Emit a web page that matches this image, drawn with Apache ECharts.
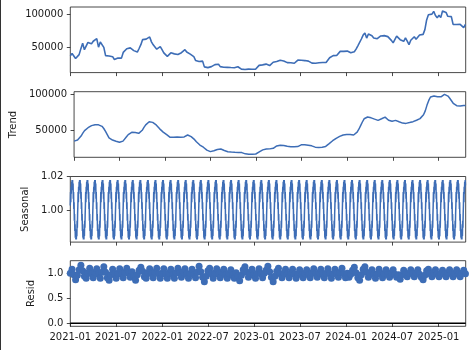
<!DOCTYPE html>
<html>
<head>
<meta charset="utf-8">
<script src="https://cdn.jsdelivr.net/npm/echarts@6/dist/echarts.min.js"></script>
<style>
  html, body { margin: 0; padding: 0; background: #ffffff; }
  #chart { width: 474px; height: 350px; }
</style>
</head>
<body>
<div id="chart"></div>
<script>
// Multiplicative seasonal decomposition of a daily price series (period = 30 days).
const DAY = 86400000;
const startDate = Date.UTC(2021, 0, 1);
const endDate = Date.UTC(2025, 3, 19);
const stepDays = 7; // observed / trend / resid are given once a week

// Observed price, weekly from 2021-01-01
const observed = [
  // 2021
  37000, 40600, 36800, 33000, 34300, 38900, 47900, 55900, 46300, 48900,
  57300, 58300, 55100, 59000, 58100, 63000, 50100, 57800, 57400, 49700,
  37300, 35700, 36900, 37300, 35800, 31600, 33900, 33800, 31800, 33600,
  42200, 42800, 47800, 49300, 49000, 50000, 44900, 47300, 42800, 48100,
  53900, 61500, 60900, 62200, 61000, 65500, 58100, 53600, 53600, 47100,
  46700, 50800, 46300,
  // 2022
  41600, 43100, 36300, 37700, 41600, 42400, 40000, 39200, 39100, 38800,
  41800, 44500, 46300, 42800, 40600, 39700, 38600, 36000, 30100, 29200,
  28600, 29700, 29100, 20400, 21200, 19300, 21600, 20800, 22600, 23800,
  23200, 24400, 20800, 20300, 19800, 21400, 19700, 19300, 19400, 19500,
  19200, 19200, 20600, 21300, 17000, 16700, 16500, 17000, 17100, 16800,
  16800, 16600,
  // 2023
  16900, 19900, 22700, 23100, 23400, 21800, 24600, 23200, 22400, 20200,
  27400, 27500, 28500, 27900, 30500, 27800, 29300, 29500, 26800, 26900,
  26700, 27200, 25900, 26300, 30700, 30500, 30300, 30300, 29900, 29300,
  29100, 29400, 26100, 26100, 25900, 25900, 26600, 26600, 27000, 27900,
  26900, 29700, 34100, 34700, 37300, 36600, 37700, 38700, 43800, 41900,
  43700, 42100,
  // 2024
  44200, 42900, 41600, 41800, 43200, 47100, 52100, 50700, 62400, 68300,
  71500, 63800, 69900, 67800, 67200, 64000, 63800, 62900, 60800, 67000,
  68500, 67500, 69300, 66000, 64100, 60300, 56700, 57900, 66700, 67900,
  61400, 60900, 58900, 64100, 59100, 53900, 60500, 63200, 65800, 62100,
  62400, 68400, 66600, 69400, 76500, 91100, 98900, 97500, 99900, 104000,
  97800, 94200,
  // 2025
  98100, 94600, 104500, 104800, 102400, 96600, 97500, 96100, 84400, 86700,
  84300, 84200, 84400, 83800, 79500, 84500
];

// Trend component, weekly
const trend = [
  // 2021
  35000, 35500, 36500, 38000, 42000, 46000, 49500, 52000, 53600, 55000,
  56500, 57300, 57800, 57900, 57600, 57000, 55500, 52500, 48500, 44000,
  39500, 37500, 36500, 35500, 34800, 34000, 33300, 33500, 35000, 37500,
  41000, 44000, 46200, 47200, 47000, 46800, 46300, 45800, 47000, 50000,
  54000, 57500, 60000, 61800, 62000, 61000, 59700, 57500, 55000, 52000,
  49500, 47500, 46000,
  // 2022
  44000, 41500, 40300, 40000, 40200, 40500, 40600, 40700, 40200, 39800,
  40800, 42500, 43500, 42800, 41200, 39800, 37000, 34000, 31500, 29500,
  27800, 26500, 24500, 22500, 20800, 20400, 20800, 21500, 22500, 23300,
  23900, 24000, 23200, 22000, 20800, 20300, 20000, 19800, 19600, 19400,
  19300, 19200, 19100, 19000, 18200, 17300, 16800, 16700, 16800, 16900,
  17000, 17100,
  // 2023
  18000, 20000, 21800, 22800, 23500, 23900, 24100, 24200, 24100, 25000,
  26500, 28200, 28900, 29200, 29300, 29000, 28500, 27800, 27300, 27000,
  27000, 27200, 27000, 27400, 28600, 29800, 30100, 30000, 29700, 29300,
  29000, 28400, 27600, 26600, 26300, 26200, 26300, 26600, 27200, 27600,
  28800, 31500, 33800, 35500, 37000, 38900, 40300, 41500, 42800, 43500,
  43900, 44200,
  // 2024
  44400, 44300, 43800, 43500, 44800, 47500, 51500, 56500, 61500, 66000,
  68000, 68500, 68000, 67300, 66600, 65500, 64500, 63800, 64500, 66000,
  68200, 68300, 66500, 64000, 62800, 62500, 63300, 63800, 63000, 61800,
  60600, 60000, 59600, 59600, 60000, 60700, 61300, 62000, 63000, 64000,
  65000, 66200, 68000, 71500, 77000, 85000, 91500, 96200, 97500, 97600,
  97300, 96500,
  // 2025
  95800, 96500, 98800, 100000, 99500, 97500, 94500, 91000, 87500, 85500,
  84200, 83700, 83600, 84000, 84300, 84300
];

// Residual component, weekly
const resid = [
  // 2021
  1.00, 1.08, 0.97, 0.87, 0.96, 1.07, 1.16, 1.05, 0.94, 0.90, 1.01, 1.10,
  0.99, 0.91, 1.02, 1.09, 0.98, 0.90, 1.02, 1.13, 1.02, 0.91, 0.86, 0.97,
  1.08, 0.99, 0.90, 1.00, 1.09, 0.98, 0.91, 1.02, 1.10, 1.00, 0.92, 1.03,
  0.95, 0.86, 0.97, 1.06, 1.12, 1.04, 0.93, 0.90, 1.01, 1.09, 0.99, 0.91,
  1.02, 1.10, 0.99, 0.90, 1.00,
  // 2022
  1.09, 0.98, 0.90, 1.01, 1.08, 0.97, 0.90, 1.01, 1.10, 1.00, 0.92, 1.03,
  1.09, 0.98, 0.90, 1.00, 1.08, 0.97, 0.91, 1.02, 1.14, 1.03, 0.92, 0.83,
  0.94, 1.05, 1.10, 0.99, 0.90, 1.01, 1.09, 0.98, 0.91, 1.02, 1.08, 0.97,
  0.90, 1.00, 1.07, 0.96, 0.90, 1.01, 0.95, 0.85, 0.96, 1.07, 1.13, 1.02,
  0.92, 1.01, 1.08, 0.97,
  // 2023
  0.90, 1.00, 1.09, 0.99, 0.91, 1.00, 1.06, 1.14, 1.03, 0.92, 0.83, 0.94,
  1.04, 1.10, 0.99, 0.91, 1.00, 1.08, 0.98, 0.91, 1.01, 1.08, 0.98, 0.90,
  0.99, 1.07, 0.97, 0.91, 1.00, 1.07, 0.97, 0.91, 1.01, 1.09, 0.99, 0.92,
  1.01, 1.08, 0.98, 0.91, 1.00, 1.09, 0.99, 0.90, 0.99, 1.08, 1.00, 0.92,
  1.02, 1.10, 0.99, 0.91,
  // 2024
  1.00, 0.92, 0.98, 1.06, 1.12, 1.01, 0.91, 0.86, 0.97, 1.08, 1.13, 1.02,
  0.92, 0.99, 1.07, 0.98, 0.90, 0.99, 1.08, 0.99, 0.91, 1.00, 1.07, 0.98,
  0.92, 1.01, 1.07, 0.98, 0.92, 0.97, 0.88, 0.97, 1.06, 0.99, 0.93, 1.00,
  1.07, 0.99, 0.93, 1.01, 1.07, 0.98, 0.92, 0.87, 0.96, 1.05, 1.08, 0.99,
  0.93, 1.01, 1.07, 0.98,
  // 2025
  0.93, 1.00, 1.06, 0.98, 0.93, 1.01, 1.07, 0.99, 0.93, 1.00, 1.07, 0.98,
  0.93, 1.00, 1.06, 0.99
];

// One 30-day seasonal cycle (day 0 = 2021-01-01); the component repeats it
const seasonalCycle = [
  1.003, 1.011, 1.005, 1.014, 1.010, 1.017, 1.013, 1.018, 1.015, 1.018,
  1.012, 1.016, 1.007, 1.011, 1.001, 1.005, 0.994, 0.998, 0.988, 0.992,
  0.984, 0.987, 0.983, 0.986, 0.983, 0.989, 0.985, 0.994, 0.990, 0.998
];

const xTickLabels = ['2021-01', '2021-07', '2022-01', '2022-07', '2023-01',
                     '2023-07', '2024-01', '2024-07', '2025-01'];
const observedTicks = [50000, 100000];
const trendTicks = [50000, 100000];
const seasonalTicks = [1.00, 1.02];
const residTicks = [0.0, 0.5, 1.0];

// ---- build series data ----
const weekly = arr => arr.map((v, i) => [startDate + i * stepDays * DAY, v]);
const nDays = Math.round((endDate - startDate) / DAY);
const seasonalData = [];
for (let d = 0; d < nDays; d++) {
  seasonalData.push([startDate + d * DAY, seasonalCycle[d % seasonalCycle.length]]);
}
const xTickValues = xTickLabels.map(s => {
  const [y, m] = s.split('-').map(Number);
  return Date.UTC(y, m - 1, 1);
});
const pad2 = n => (n < 10 ? '0' : '') + n;
const fmtMonth = v => {
  const d = new Date(v);
  return d.getUTCFullYear() + '-' + pad2(d.getUTCMonth() + 1);
};

// ---- layout ----
const FONT = 'DejaVu Sans';
const INK = '#1a1a1a';
const BLUE = '#3d6db6';
const panelLeft = 70.3, panelWidth = 395.4, panelHeight = 65.6;
const panelTops = [7, 91.7, 176.5, 260.7];

const grids = panelTops.map(t => ({
  left: panelLeft, top: t, width: panelWidth, height: panelHeight,
  show: true, borderColor: INK, borderWidth: 0.8, backgroundColor: 'transparent',
  containLabel: false
}));

const xAxes = panelTops.map((t, i) => ({
  type: 'value', gridIndex: i, min: startDate, max: endDate,
  splitLine: { show: false },
  axisLine: { show: false },
  axisTick: { show: true, inside: false, length: 3.5, customValues: xTickValues,
              lineStyle: { color: INK, width: 0.8 } },
  axisLabel: { show: i === 3, customValues: xTickValues, formatter: fmtMonth,
               margin: 6, fontSize: 10, fontFamily: FONT, color: INK }
}));

function yAxis(i, min, max, ticks, digits, name, gap) {
  return {
    type: 'value', gridIndex: i, min: min, max: max,
    splitLine: { show: false },
    axisLine: { show: false },
    axisTick: { show: true, inside: false, length: 3.5, customValues: ticks,
                lineStyle: { color: INK, width: 0.8 } },
    axisLabel: { customValues: ticks, formatter: v => v.toFixed(digits),
                 margin: 7, fontSize: 10, fontFamily: FONT, color: INK },
    name: name, nameLocation: 'middle', nameRotate: 90, nameGap: gap,
    nameTextStyle: { fontSize: 10, fontFamily: FONT, color: INK }
  };
}

const yAxes = [
  yAxis(0, 11800, 110600, observedTicks, 0, '', 0),
  yAxis(1, 12500, 103600, trendTicks, 0, 'Trend', 52),
  yAxis(2, 0.9815, 1.0201, seasonalTicks, 2, 'Seasonal', 30),
  yAxis(3, -0.06, 1.252, residTicks, 1, 'Resid', 23)
];

const option = {
  animation: false,
  backgroundColor: '#ffffff',
  grid: grids,
  xAxis: xAxes,
  yAxis: yAxes,
  graphic: [{
    type: 'rect', shape: { x: 0, y: 0, width: 1, height: 350 },
    style: { fill: '#333333' }, silent: true
  }],
  series: [
    { type: 'line', xAxisIndex: 0, yAxisIndex: 0, data: weekly(observed),
      showSymbol: false, lineStyle: { color: BLUE, width: 1.6 }, z: 3 },
    { type: 'line', xAxisIndex: 1, yAxisIndex: 1, data: weekly(trend),
      showSymbol: false, lineStyle: { color: BLUE, width: 1.5 }, z: 3 },
    { type: 'line', xAxisIndex: 2, yAxisIndex: 2, data: seasonalData,
      showSymbol: false, sampling: null, lineStyle: { color: BLUE, width: 1.5 }, z: 3 },
    { type: 'line', xAxisIndex: 3, yAxisIndex: 3,
      data: [[startDate, 0], [endDate, 0]],
      showSymbol: false, lineStyle: { color: '#000000', width: 1.5 }, z: 2 },
    { type: 'scatter', xAxisIndex: 3, yAxisIndex: 3, data: weekly(resid),
      symbol: 'circle', symbolSize: 7, itemStyle: { color: BLUE, opacity: 1 }, z: 3 }
  ]
};

const chart = echarts.init(document.getElementById('chart'), null, { renderer: 'canvas' });
chart.setOption(option);
</script>
</body>
</html>
